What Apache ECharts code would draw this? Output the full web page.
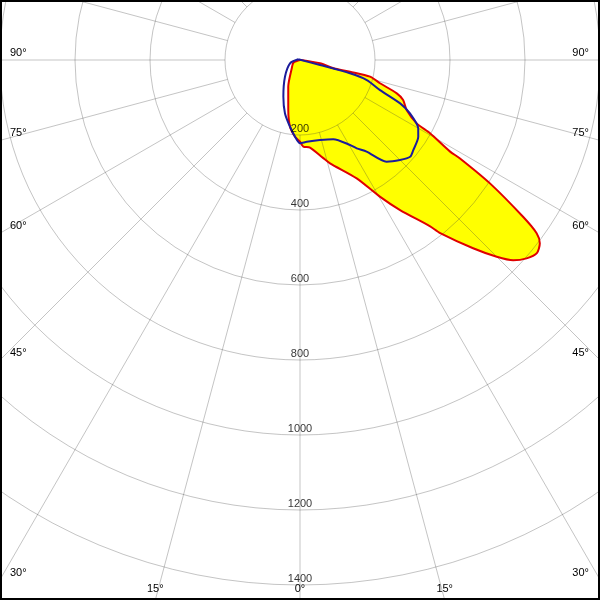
<!DOCTYPE html>
<html>
<head>
<meta charset="utf-8">
<script src="https://cdn.jsdelivr.net/npm/echarts@6/dist/echarts.min.js"></script>
<style>html,body{margin:0;padding:0;background:#fff}#c{width:600px;height:600px;background:#fff}</style>
</head>
<body>
<div id="c"></div>
<script>
// Gamma angles (deg): positive = right half-plane, negative = left half-plane; values in cd
const redAngles = [100, -68, -45, -23.7, -13.2, -8.5, -3.7, 0, 2.2, 6.5, 13.2, 16.2, 25.6, 30.3, 33.7, 38.0, 39.0, 42.6, 45, 46.8, 48.8, 50.8, 52.6, 53.8, 54.9, 57.0, 58.4, 58.6, 60.6, 61.5, 64.9, 68.8, 71.0, 73.8, 76.6, 76.8, 76.4, 80.6, 100];
const redValues = [2, 19, 31, 78, 137, 180, 205, 218, 231, 235, 268, 287, 350, 422, 481, 562, 594, 682, 742, 780, 803, 815, 805, 782, 727, 604, 501, 469, 398, 354, 314, 295, 273, 222, 192, 137, 90, 54, 2];
const blueAngles = [-112, -71.7, -41.9, -24.5, -15.7, -8.5, -3.7, 0, 4.7, 14.0, 22.8, 30.5, 32.7, 36.0, 40.4, 45, 48.7, 51.5, 57.0, 60.0, 64.1, 66.6, 69.4, 73.3, 75.1, 76, -112];
const blueValues = [5, 28, 60, 107, 148, 180, 205, 222, 219, 220, 229, 263, 280, 302, 356, 377, 391, 386, 376, 364, 326, 291, 228, 186, 138, 55, 5];
const ringValues = [200, 400, 600, 800, 1000, 1200, 1400];
const angleLabelValues = [0, 15, 30, 45, 60, 75, 90];

const CX = 300, CY = 60, W = 600, H = 600;
const gridColor = 'rgba(60,60,60,0.3)';
const FONT = '"Liberation Sans", Arial, sans-serif';
const norm = a => (a < 0 ? 360 + a : a);
const redData = redValues.map((v, i) => [v, norm(redAngles[i])]);
const blueData = blueValues.map((v, i) => [v, norm(blueAngles[i])]);
const ringData = ringValues.map(v => [v, 0]);

// angle labels where each ray meets the frame
const graphics = [{
  type: 'rect', shape: {x: 0, y: 0, width: W, height: H},
  style: {fill: 'none', stroke: '#000', lineWidth: 4}, z: 100
}];
angleLabelValues.forEach(g => {
  [1, -1].forEach(side => {
    if (g === 0 && side === -1) return;
    const a = g * Math.PI / 180;
    const dx = Math.sin(a) * side, dy = Math.cos(a);
    const tx = dx > 1e-9 ? (W - CX) / dx : dx < -1e-9 ? -CX / dx : Infinity;
    const ty = dy > 1e-9 ? (H - CY) / dy : Infinity;
    let x, y, align;
    if (tx < ty) {
      y = CY + tx * dy - 7;
      if (dx > 0) { x = W - 11; align = 'right'; } else { x = 10; align = 'left'; }
    } else {
      x = CX + ty * dx; y = H - 11; align = 'center';
    }
    graphics.push({
      type: 'text', x: x, y: y, z: 100,
      style: {text: g + '°', fill: '#000', font: '11px ' + FONT, textAlign: align, textVerticalAlign: 'middle'}
    });
  });
});

const hiddenAxis = {axisLine: {show: false}, axisTick: {show: false}, axisLabel: {show: false}};
const chart = echarts.init(document.getElementById('c'), null, {renderer: 'canvas'});
chart.setOption({
  animation: false,
  backgroundColor: 'transparent',
  polar: [
    {center: [CX, CY], radius: 525},
    {center: [CX, CY], radius: [75, 720]}
  ],
  angleAxis: [
    Object.assign({polarIndex: 0, type: 'value', min: 0, max: 360, startAngle: 270, clockwise: false, splitLine: {show: false}}, hiddenAxis),
    Object.assign({polarIndex: 1, type: 'value', min: 0, max: 360, interval: 15, startAngle: 270, clockwise: false,
      splitLine: {show: true, lineStyle: {color: gridColor, width: 1}}}, hiddenAxis)
  ],
  radiusAxis: [
    Object.assign({polarIndex: 0, type: 'value', min: 0, max: 1400, interval: 200,
      splitLine: {show: true, lineStyle: {color: gridColor, width: 1}}}, hiddenAxis),
    Object.assign({polarIndex: 1, type: 'value', min: 0, max: 1, splitLine: {show: false}}, hiddenAxis)
  ],
  series: [
    {type: 'line', coordinateSystem: 'polar', polarIndex: 0, data: redData, showSymbol: false, silent: true, smooth: 0.25,
      lineStyle: {width: 0, opacity: 0}, areaStyle: {color: '#ffff00', opacity: 1}, zlevel: -1, z: 1},
    {type: 'line', coordinateSystem: 'polar', polarIndex: 0, data: redData, showSymbol: false, silent: true, smooth: 0.25,
      lineStyle: {width: 2, color: '#e00000'}, z: 3},
    {type: 'line', coordinateSystem: 'polar', polarIndex: 0, data: blueData, showSymbol: false, silent: true, smooth: 0.25,
      lineStyle: {width: 2, color: '#1c1c9c'}, z: 4},
    {type: 'scatter', coordinateSystem: 'polar', polarIndex: 0, data: ringData, symbolSize: 0, silent: true, z: 5,
      label: {show: true, position: 'top', distance: 1, formatter: p => String(p.value[0]),
        color: '#000', fontSize: 11, fontFamily: FONT}}
  ],
  graphic: graphics
});
</script>
</body>
</html>
